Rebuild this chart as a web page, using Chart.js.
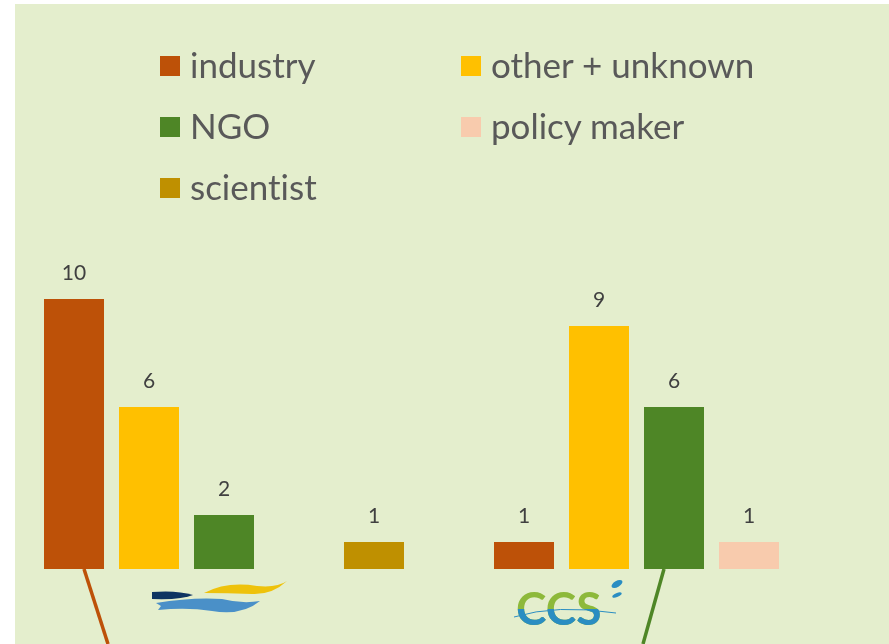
<!DOCTYPE html>
<html lang="en">

<head>
    <meta charset="UTF-8">
    <title>Stakeholders per project</title>
    <script src="https://cdn.jsdelivr.net/npm/chart.js@4.4.0/dist/chart.umd.min.js"></script>
    <style>
        html, body { margin: 0; padding: 0; background: #fff; overflow: hidden; }
        #panel { position: absolute; left: 15px; top: 4px; right: 0; bottom: 0; background: #E4EECD; }
        #wrap { position: absolute; left: -1px; top: 0; width: 900px; height: 644px; }
        #legend { position: absolute; left: 160px; top: 0; font-family: Lato, sans-serif; font-size: 35px; color: #595959; font-variant-ligatures: none; }
        .item { position: absolute; white-space: nowrap; height: 40px; line-height: 40px; }
        .item span.box { position: absolute; left: 0; top: 10px; width: 20px; height: 20px; }
        .item span.txt { position: absolute; left: 30px; top: -2px; }
    </style>
</head>

<body>
    <div id="panel"></div>
    <div id="wrap"><canvas id="mychart" width="900" height="644"></canvas></div>
    <div id="legend"></div>

    <script>
        // two groups (shown by the logos under the bars)
        const groups = ['A', 'B'];
        const seriesNames = ['industry', 'other + unknown', 'NGO', 'policy maker', 'scientist'];
        const industry = [10, 1];
        const otherUnknown = [6, 9];
        const ngo = [2, 6];
        const policyMaker = [null, 1];
        const scientist = [1, null];
        const colors = ['#BD5108', '#FFC000', '#4E8626', '#F8CBAD', '#BF9000'];

        const values = [industry, otherUnknown, ngo, policyMaker, scientist];

        //legend in two columns
        const legend = document.getElementById('legend');
        seriesNames.forEach(function (name, i) {
            const d = document.createElement('div');
            d.className = 'item';
            d.style.left = (i % 2) * 301 + 'px';
            d.style.top = 46 + Math.floor(i / 2) * 61 + 'px';
            d.innerHTML = '<span class="box" style="background:' + colors[i] + '"></span><span class="txt">' + name + '</span>';
            legend.appendChild(d);
        });

        //values above bars
        const valueLabels = {
            id: 'valueLabels',
            afterDatasetsDraw(chart) {
                const ctx = chart.ctx;
                ctx.save();
                ctx.font = '21px Lato';
                ctx.fillStyle = '#404040';
                ctx.textAlign = 'center';
                ctx.textBaseline = 'bottom';
                chart.data.datasets.forEach(function (ds, i) {
                    chart.getDatasetMeta(i).data.forEach(function (bar, j) {
                        if (ds.data[j] == null) return;
                        ctx.fillText(ds.data[j], bar.x, bar.y - 15);
                    });
                });
                ctx.restore();
            }
        };

        //leader lines and the two logos under the groups
        const logos = {
            id: 'logos',
            afterDraw(chart) {
                const ctx = chart.ctx;
                const base = chart.chartArea.bottom;
                const h = chart.height;
                const b0 = chart.getDatasetMeta(0).data[0];
                const b2 = chart.getDatasetMeta(2).data[1];
                ctx.save();
                ctx.lineWidth = 3.5;
                ctx.strokeStyle = colors[0];
                ctx.beginPath();
                ctx.moveTo(b0.x + 10, base);
                ctx.lineTo(b0.x + 34, h);
                ctx.stroke();
                ctx.strokeStyle = colors[2];
                ctx.beginPath();
                ctx.moveTo(b2.x - 10, base);
                ctx.lineTo(b2.x - 31, h);
                ctx.stroke();

                // wave logo
                let cx = chart.scales.x.getPixelForValue(0) - 72;
                let cy = base;
                ctx.fillStyle = '#0E3462';
                ctx.beginPath();
                ctx.moveTo(cx + 0, cy + 23);
                ctx.quadraticCurveTo(cx + 25, cy + 21, cx + 41, cy + 26);
                ctx.quadraticCurveTo(cx + 30, cy + 31, cx + 0, cy + 30);
                ctx.closePath();
                ctx.fill();
                ctx.fillStyle = '#EEC20B';
                ctx.beginPath();
                ctx.moveTo(cx + 52, cy + 24);
                ctx.quadraticCurveTo(cx + 75, cy + 12, cx + 105, cy + 17);
                ctx.quadraticCurveTo(cx + 125, cy + 19, cx + 135, cy + 12);
                ctx.quadraticCurveTo(cx + 120, cy + 26, cx + 100, cy + 25);
                ctx.quadraticCurveTo(cx + 75, cy + 24, cx + 52, cy + 24);
                ctx.closePath();
                ctx.fill();
                ctx.fillStyle = '#4A90C8';
                ctx.beginPath();
                ctx.moveTo(cx + 4, cy + 34);
                ctx.quadraticCurveTo(cx + 40, cy + 28, cx + 70, cy + 30);
                ctx.quadraticCurveTo(cx + 90, cy + 35, cx + 108, cy + 32);
                ctx.quadraticCurveTo(cx + 90, cy + 47, cx + 60, cy + 42);
                ctx.quadraticCurveTo(cx + 35, cy + 38, cx + 6, cy + 41);
                ctx.lineTo(cx + 9, cy + 37);
                ctx.closePath();
                ctx.fill();

                // CCS logo
                cx = chart.scales.x.getPixelForValue(1) - 158;
                cy = base + 41;
                ctx.font = 'bold 46px Lato';
                ctx.textBaseline = 'alphabetic';
                ctx.fillStyle = '#8DB93B';
                ctx.fillText('CCS', cx, cy + 15);
                ctx.save();
                ctx.beginPath();
                ctx.rect(cx - 2, cy - 1, 100, 30);
                ctx.clip();
                ctx.fillStyle = '#2A8DC2';
                ctx.fillText('CCS', cx, cy + 15);
                ctx.restore();
                ctx.strokeStyle = '#2A8DC2';
                ctx.lineWidth = 1;
                ctx.beginPath();
                ctx.moveTo(cx - 2, cy + 7);
                ctx.quadraticCurveTo(cx + 40, cy - 6, cx + 100, cy + 3);
                ctx.stroke();
                ctx.fillStyle = '#2A8DC2';
                ctx.beginPath();
                ctx.ellipse(cx + 101, cy - 26, 6, 3, -0.5, 0, Math.PI * 2);
                ctx.fill();
                ctx.beginPath();
                ctx.ellipse(cx + 101, cy - 15, 5, 2, -0.4, 0, Math.PI * 2);
                ctx.fill();
                ctx.restore();
            }
        };

        const ctx = document.getElementById('mychart');
        const mychart = new Chart(ctx, {
            type: 'bar',
            data: {
                labels: groups,
                datasets: seriesNames.map(function (name, i) {
                    return {
                        label: name,
                        data: values[i],
                        backgroundColor: colors[i],
                        categoryPercentage: 0.8333,
                        barPercentage: 0.8,
                    };
                }),
            },
            plugins: [valueLabels, logos],
            options: {
                responsive: false,
                animation: false,
                layout: { padding: { top: 299, bottom: 75, left: 0, right: 0 } },
                plugins: {
                    legend: { display: false },
                    tooltip: { enabled: false },
                },
                scales: {
                    x: { display: false },
                    y: { display: false, min: 0, max: 10 },
                }
            }
        });
    </script>
</body>

</html>
